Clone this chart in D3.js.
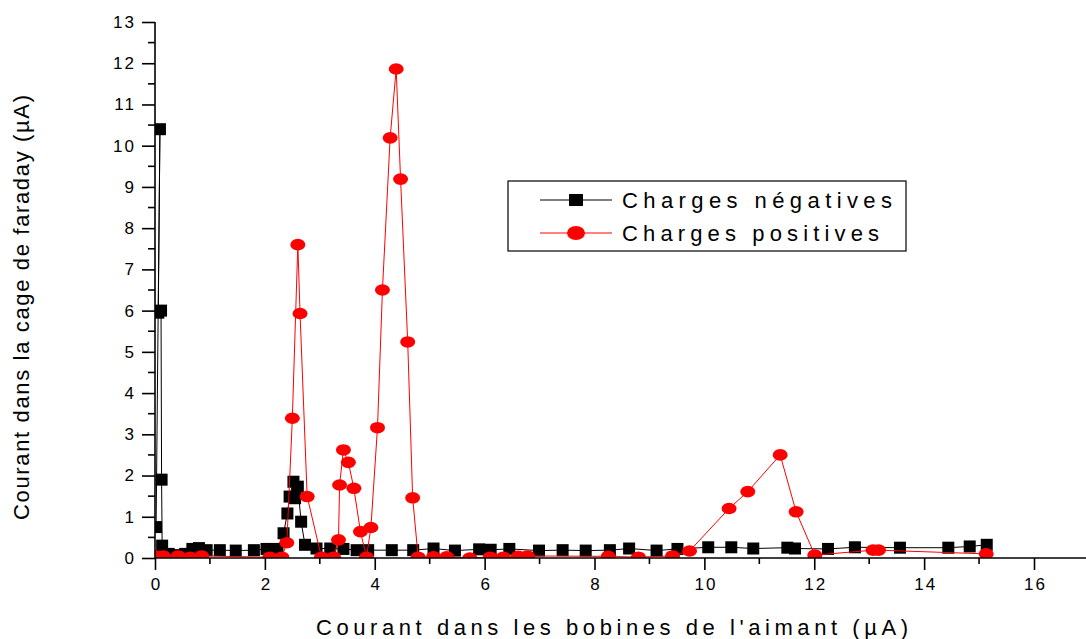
<!DOCTYPE html>
<html><head><meta charset="utf-8">
<script src="https://cdn.jsdelivr.net/npm/d3@7"></script>
<style>
body{margin:0;background:#fff;}
svg text{font-family:"Liberation Sans",Arial,sans-serif;fill:#000;}
</style></head>
<body><svg id="chart" width="1086" height="639"></svg>
<script>
const xTicks = [0,2,4,6,8,10,12,14,16];
const yTicks = [0,1,2,3,4,5,6,7,8,9,10,11,12,13];
const xLabel = "Courant dans les bobines de l'aimant (µA)";
const yLabel = "Courant dans la cage de faraday (µA)";
const seriesNames = ["Charges négatives","Charges positives"];

const negX = [0.02,0.09,0.06,0.11,0.12,0.13,0.25,0.4,0.55,0.68,0.8,0.94,1.18,1.47,1.8,2.03,2.23,2.34,2.41,2.45,2.52,2.55,2.6,2.66,2.73,2.94,3.19,3.43,3.67,3.88,4.31,4.70,5.07,5.46,5.9,6.11,6.45,6.99,7.42,7.84,8.28,8.63,9.13,9.51,10.07,10.49,10.89,11.51,11.65,12.25,12.74,13.56,14.44,14.83,15.14];
const negY = [0.75,10.4,5.95,6.0,1.9,0.3,0.1,0.07,0.1,0.22,0.24,0.19,0.19,0.18,0.19,0.22,0.22,0.6,1.08,1.49,1.85,1.45,1.73,0.88,0.32,0.23,0.23,0.22,0.19,0.19,0.19,0.19,0.23,0.18,0.21,0.2,0.22,0.18,0.19,0.18,0.19,0.23,0.18,0.22,0.26,0.26,0.23,0.25,0.23,0.22,0.26,0.25,0.25,0.28,0.32];

const posX = [0,0.15,0.42,0.64,0.85,2.09,2.31,2.40,2.50,2.60,2.64,2.77,3.03,3.25,3.34,3.36,3.43,3.52,3.62,3.74,3.85,3.93,4.05,4.14,4.28,4.39,4.47,4.6,4.69,4.79,5.07,5.31,5.73,6.1,6.34,6.61,6.78,8.25,8.8,9.42,9.73,10.45,10.79,11.38,11.67,12.01,13.07,13.17,15.13];
const posY = [0.05,0.05,0.05,0.02,0.05,0.02,0.02,0.37,3.39,7.6,5.93,1.49,0.02,0.02,0.44,1.77,2.62,2.32,1.69,0.64,0.02,0.74,3.16,6.5,10.19,11.86,9.19,5.24,1.46,0.02,0.03,0.03,0.0,0.02,0.02,0.04,0.05,0.04,0.02,0.05,0.17,1.2,1.61,2.5,1.12,0.07,0.19,0.19,0.1];

const svg = d3.select("#chart");
const x0 = 155, x16 = 1034, yBase = 558, yTop = 22;
const x = d3.scaleLinear().domain([0,16]).range([x0,x16]);
const y = d3.scaleLinear().domain([0,13]).range([yBase,yTop]);

svg.append("defs").append("clipPath").attr("id","plotclip")
  .append("rect").attr("x",x0).attr("y",0).attr("width",1086-x0).attr("height",yBase);

const plot = svg.append("g").attr("clip-path","url(#plotclip)");
const neg = negX.map((v,i)=>[v,negY[i]]);
const pos = posX.map((v,i)=>[v,posY[i]]);
const line = d3.line().x(d=>x(d[0])).y(d=>y(d[1]));

plot.append("path").datum(neg).attr("d",line).attr("fill","none").attr("stroke","#000").attr("stroke-width",1);
plot.selectAll("rect.neg").data(neg).enter().append("rect").attr("class","neg")
  .attr("x",d=>x(d[0])-6).attr("y",d=>y(d[1])-6).attr("width",12).attr("height",12).attr("fill","#000");
plot.append("path").datum(pos).attr("d",line).attr("fill","none").attr("stroke","#ff0000").attr("stroke-width",1);
plot.selectAll("ellipse.pos").data(pos).enter().append("ellipse").attr("class","pos")
  .attr("cx",d=>x(d[0])).attr("cy",d=>y(d[1])).attr("rx",7.5).attr("ry",5.8).attr("fill","#ff0000");

// X axis
const xMinor = d3.range(1,17,2);
const gx = svg.append("g").attr("transform",`translate(0,${yBase})`);
gx.call(d3.axisBottom(x).tickValues(xTicks).tickSize(12).tickSizeOuter(0).tickPadding(8).tickFormat(d3.format("d")));
gx.select(".domain").remove();
gx.selectAll(".tick line").attr("stroke-width",1.6);
gx.selectAll(".tick text").style("font-size","17px").style("letter-spacing","2px").attr("dx","1px");
gx.selectAll("line.minor").data(xMinor).enter().append("line").attr("class","minor")
  .attr("x1",d=>x(d)).attr("x2",d=>x(d)).attr("y1",0).attr("y2",6).attr("stroke","#000").attr("stroke-width",1.6);
gx.append("line").attr("x1",x0).attr("x2",1086).attr("y1",0).attr("y2",0).attr("stroke","#000").attr("stroke-width",1.6);

// Y axis
const yMinor = d3.range(0.5,13,1);
const gy = svg.append("g").attr("transform",`translate(${x0},0)`);
gy.call(d3.axisLeft(y).tickValues(yTicks).tickSize(13).tickSizeOuter(0).tickPadding(6).tickFormat(d3.format("d")));
gy.select(".domain").remove();
gy.selectAll(".tick line").attr("stroke-width",1.6);
gy.selectAll(".tick text").style("font-size","17px").style("letter-spacing","2px");
gy.selectAll("line.minor").data(yMinor).enter().append("line").attr("class","minor")
  .attr("x1",-7).attr("x2",0).attr("y1",d=>y(d)).attr("y2",d=>y(d)).attr("stroke","#000").attr("stroke-width",1.6);
gy.append("line").attr("x1",0).attr("x2",0).attr("y1",yTop).attr("y2",yBase+1).attr("stroke","#000").attr("stroke-width",1.6);

// Titles
svg.append("text").attr("x",316).attr("y",635).attr("textLength",592).attr("lengthAdjust","spacing")
  .style("font-size","22px").text(xLabel);
svg.append("text").attr("transform","translate(29,520) rotate(-90)").attr("textLength",425).attr("lengthAdjust","spacing")
  .style("font-size","22px").text(yLabel);

// Legend
const lg = svg.append("g");
lg.append("rect").attr("x",508).attr("y",181).attr("width",398).attr("height",70).attr("fill","#fff").attr("stroke","#000").attr("stroke-width",1.2);
const rows = [{name:seriesNames[0],color:"#000",shape:"rect",yy:200,len:270},{name:seriesNames[1],color:"#ff0000",shape:"ellipse",yy:233,len:257}];
rows.forEach(r=>{
  lg.append("line").attr("x1",540).attr("x2",612).attr("y1",r.yy).attr("y2",r.yy).attr("stroke",r.color).attr("stroke-width",1);
  if(r.shape==="rect") lg.append("rect").attr("x",576-7).attr("y",r.yy-6).attr("width",14).attr("height",12).attr("fill",r.color);
  else lg.append("ellipse").attr("cx",576).attr("cy",r.yy).attr("rx",9).attr("ry",7).attr("fill",r.color);
  lg.append("text").attr("x",622).attr("y",r.yy+8).attr("textLength",r.len).attr("lengthAdjust","spacing")
    .style("font-size","22px").text(r.name);
});
</script></body></html>
